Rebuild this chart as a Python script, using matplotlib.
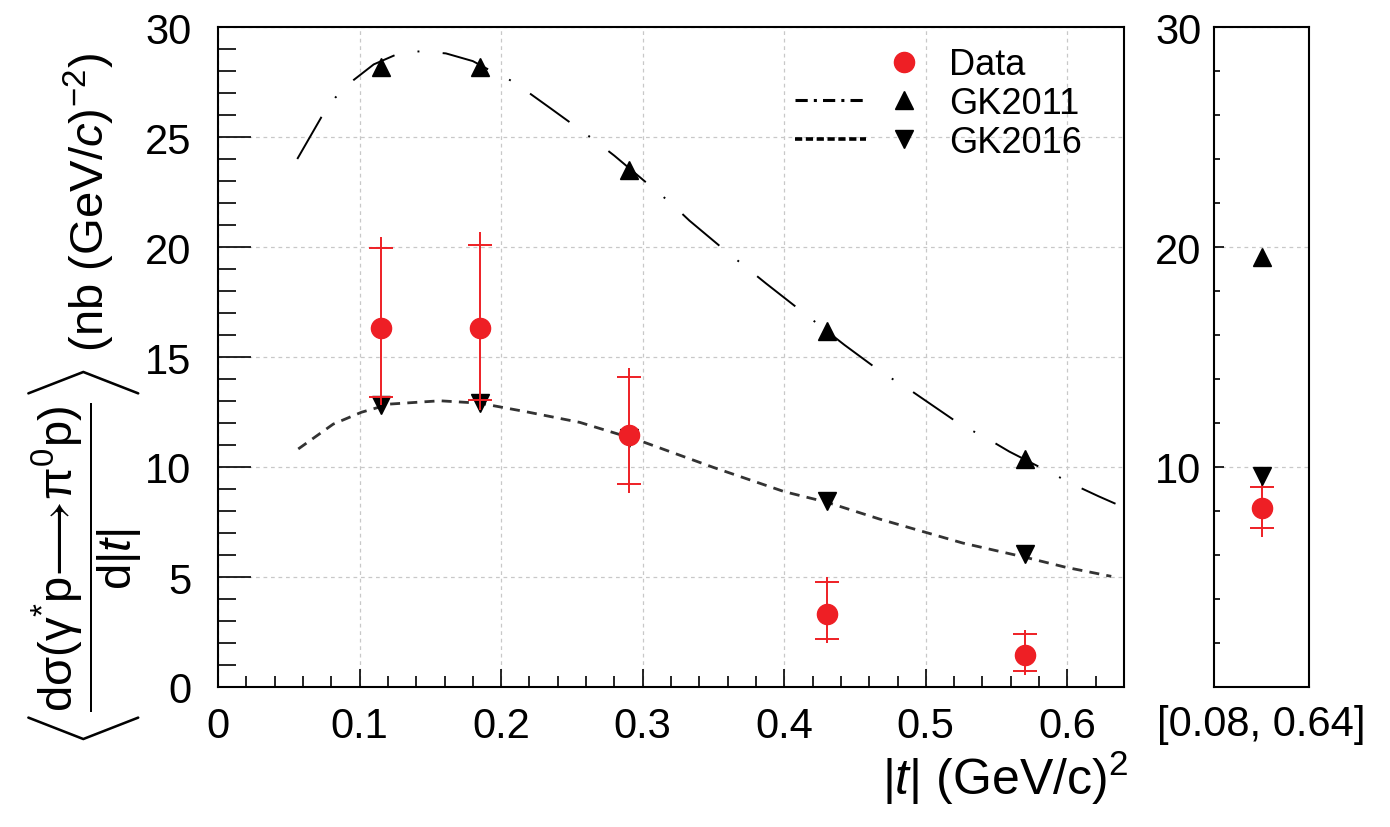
import numpy as np
import matplotlib
matplotlib.use('Agg')
import matplotlib.pyplot as plt
from matplotlib.lines import Line2D
from matplotlib.legend_handler import HandlerTuple
from matplotlib.ticker import MultipleLocator

plt.rcParams['font.family'] = ['Liberation Sans', 'DejaVu Sans']
plt.rcParams['mathtext.fontset'] = 'custom'
plt.rcParams['mathtext.rm'] = 'Liberation Sans'
plt.rcParams['mathtext.it'] = 'Liberation Sans:italic'
plt.rcParams['mathtext.bf'] = 'Liberation Sans:bold'
plt.rcParams['mathtext.default'] = 'regular'

RED = '#ee1f25'

# measured points, |t| bins
t_data = [0.115, 0.185, 0.29, 0.43, 0.57]
xsec = [16.3, 16.3, 11.45, 3.32, 1.47]
cap_hi = [19.95, 20.1, 14.1, 4.79, 2.41]      # inner error (caps)
cap_lo = [13.2, 13.05, 9.23, 2.18, 0.71]
bar_hi = [20.45, 20.7, 14.5, 4.99, 2.59]      # total error (bar)
bar_lo = [12.8, 12.6, 8.8, 1.99, 0.55]

# model values at the bin centres
gk2011_pts = [28.2, 28.2, 23.5, 16.2, 10.36]
gk2016_pts = [12.8, 12.9, 11.3, 8.47, 6.05]

# model curves
gk2011_t = [0.056, 0.073, 0.083, 0.096, 0.11, 0.126, 0.143, 0.161, 0.18, 0.193,
            0.209, 0.235, 0.265, 0.28, 0.306, 0.32, 0.333, 0.359, 0.373, 0.387,
            0.414, 0.4425, 0.4695, 0.485, 0.524, 0.544, 0.559, 0.59, 0.606,
            0.622, 0.634]
gk2011_y = [24.0, 25.9, 26.8, 27.6, 28.3, 28.75, 28.9, 28.8, 28.45, 28.0,
            27.5, 26.3, 24.9, 24.15, 22.74, 21.99, 21.2, 19.8, 19.08, 18.35,
            16.99, 15.55, 14.27, 13.67, 11.95, 11.27, 10.7, 9.68, 9.15,
            8.67, 8.33]
gk2016_t = [0.0567, 0.0814, 0.1014, 0.1214, 0.1567, 0.185, 0.2178, 0.2555,
            0.2978, 0.3496, 0.400, 0.43, 0.467, 0.526, 0.57, 0.599, 0.631]
gk2016_y = [10.82, 11.95, 12.49, 12.86, 13.01, 12.9, 12.51, 12.03,
            11.2, 9.99, 8.88, 8.4, 7.64, 6.545, 5.9, 5.44, 5.03]

# integrated bin [0.08, 0.64]
int_label = '[0.08, 0.64]'
int_data = 8.14
int_cap = (7.23, 9.09)
int_bar = (6.83, 9.57)
int_gk2011 = 19.55
int_gk2016 = 9.6

fig = plt.figure(figsize=(13.9, 8.28), dpi=100)
ax = fig.add_axes([218/1390, 1 - 688/828, (1124-218)/1390, 660/828])
ax2 = fig.add_axes([1214/1390, 1 - 688/828, (1309-1214)/1390, 660/828])

grid_kw = dict(color='#c8c8c8', linestyle=(0, (3, 3)), linewidth=0.9)

# main panel
ax.plot(gk2011_t, gk2011_y, color='black', lw=1.4,
        linestyle=(0, (25, 12, 1, 12)))
ax.plot(gk2016_t, gk2016_y, color='#333333', lw=2.0,
        linestyle=(0, (3.6, 2.6)))
ax.plot(t_data, gk2011_pts, '^', color='black', ms=13)
ax.plot(t_data, gk2016_pts, 'v', color='black', ms=13)

xs = np.array(xsec)
ax.errorbar(t_data, xs, yerr=[xs - np.array(bar_lo), np.array(bar_hi) - xs],
            fmt='none', ecolor=RED, elinewidth=1.4, capsize=0)
ax.errorbar(t_data, xs, yerr=[xs - np.array(cap_lo), np.array(cap_hi) - xs],
            fmt='none', ecolor=RED, elinewidth=0, capsize=8.6, capthick=1.4)
ax.plot(t_data, xsec, 'o', color=RED, ms=14.5)

ax.set_xlim(0, 0.64)
ax.set_ylim(0, 30)
ax.xaxis.set_major_locator(MultipleLocator(0.1))
ax.xaxis.set_minor_locator(MultipleLocator(0.02))
ax.yaxis.set_major_locator(MultipleLocator(5))
ax.yaxis.set_minor_locator(MultipleLocator(1))
ax.set_xticks([0, 0.1, 0.2, 0.3, 0.4, 0.5, 0.6])
ax.set_xticklabels(['0', '0.1', '0.2', '0.3', '0.4', '0.5', '0.6'])
ax.tick_params(axis='both', which='both', direction='in', labelsize=30,
               width=1.2, top=False, right=False)
ax.tick_params(axis='y', which='major', length=24, pad=19)
ax.tick_params(axis='y', which='minor', length=13)
ax.tick_params(axis='x', which='major', length=13, pad=14)
ax.tick_params(axis='x', which='minor', length=8)
ax.grid(True, which='major', **grid_kw)
for s in ax.spines.values():
    s.set_linewidth(1.5)

ax.set_xlabel(r'|$\mathit{t}$| (GeV/c)$^{2}$', fontsize=36, ha='right')
ax.xaxis.set_label_coords(1.005, -0.093)

fig.text(86/1390, 1 - 400/828,
         r'$\left\langle\dfrac{d\sigma(\gamma^{*}p\!\longrightarrow\!\pi^{0}p)}{d|\mathit{t}|}\right\rangle$'
         r' (nb (GeV/$\mathit{c}$)$^{-2}$)',
         rotation=90, ha='center', va='center', fontsize=34)

# legend: line and marker side by side
blank = Line2D([], [], linestyle='none')
h_data = (blank, Line2D([], [], marker='o', color=RED, ms=14.5, linestyle='none'))
h_11 = (Line2D([], [], color='black', lw=2.2, linestyle=(0, (4, 2, 1, 2))),
        Line2D([], [], marker='^', color='black', ms=13, linestyle='none'))
h_16 = (Line2D([], [], color='black', lw=2.6, linestyle=(0, (2, 1))),
        Line2D([], [], marker='v', color='black', ms=13, linestyle='none'))
ax.legend([h_data, h_11, h_16], ['Data', 'GK2011', 'GK2016'],
          handler_map={tuple: HandlerTuple(ndivide=2, pad=0.05)},
          loc='upper right', bbox_to_anchor=(0.985, 1.013), frameon=False,
          fontsize=26, handlelength=4.0, handletextpad=0.25,
          labelspacing=0.1, borderpad=0.3)

# integrated panel
ax2.errorbar([0.5], [int_data], yerr=[[int_data - int_bar[0]], [int_bar[1] - int_data]],
             fmt='none', ecolor=RED, elinewidth=1.4, capsize=0)
ax2.errorbar([0.5], [int_data], yerr=[[int_data - int_cap[0]], [int_cap[1] - int_data]],
             fmt='none', ecolor=RED, elinewidth=0, capsize=8.6, capthick=1.4)
ax2.plot([0.5], [int_gk2011], '^', color='black', ms=13)
ax2.plot([0.5], [int_gk2016], 'v', color='black', ms=13)
ax2.plot([0.5], [int_data], 'o', color=RED, ms=14.5)
ax2.set_xlim(0, 1)
ax2.set_ylim(0, 30)
ax2.set_xticks([0.5])
ax2.set_xticklabels([int_label])
ax2.set_yticks([10, 20, 30])
ax2.yaxis.set_minor_locator(MultipleLocator(2))
ax2.tick_params(axis='x', length=0, labelsize=30, pad=12)
ax2.tick_params(axis='y', which='both', direction='in', labelsize=30,
                width=1.2, pad=9, right=False)
ax2.tick_params(axis='y', which='major', length=7)
ax2.tick_params(axis='y', which='minor', length=4)
ax2.yaxis.grid(True, which='major', **grid_kw)
for s in ax2.spines.values():
    s.set_linewidth(1.5)

fig.savefig('out.png', dpi=100)
